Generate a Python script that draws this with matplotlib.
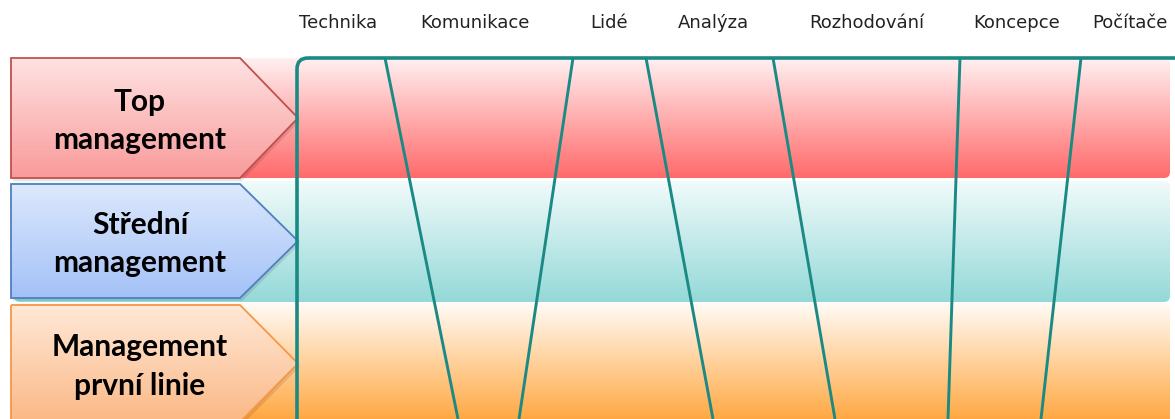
import numpy as np
import matplotlib
matplotlib.use("Agg")
import matplotlib.pyplot as plt
from matplotlib.patches import Polygon, FancyBboxPatch
from matplotlib.colors import to_rgb

# ---- data ----
skills = ["Technika", "Komunikace", "Lidé", "Analýza", "Rozhodování", "Koncepce", "Počítače"]
skill_x = [338, 475, 609, 713, 867, 1017, 1130]
levels = ["Top\nmanagement", "Střední\nmanagement", "Management\nprvní linie"]
boundary_top = [385, 573, 646, 773, 960, 1081]
boundary_bottom = [458, 519, 713, 835, 948, 1041]

W, H = 1175, 419
fig = plt.figure(figsize=(W / 100, H / 100), dpi=100)
ax = fig.add_axes([0, 0, 1, 1])
ax.set_xlim(0, W)
ax.set_ylim(H, 0)
ax.axis("off")

band_y = [(58, 178), (181, 302), (303, 425)]
band_cols = [("#fff1f2", "#ff6a6a"), ("#f2fbfb", "#94d9d8"), ("#fffbf6", "#ffa43a")]
arrow_y = [(58, 178), (184, 298), (305, 422)]
arrow_cols = [("#ffe3e3", "#f99a9a", "#c0504d"),
              ("#dde9fd", "#a3c1f7", "#4f7fbf"),
              ("#ffe9d8", "#fbb885", "#f79646")]


def gradient(patch, y0, y1, c0, c1, x0, x1, z):
    n = 256
    a = np.array(to_rgb(c0)); b = np.array(to_rgb(c1))
    t = np.linspace(0, 1, n)[:, None]
    img = (a * (1 - t) + b * t)[:, None, :]
    im = ax.imshow(img, extent=[x0, x1, y1, y0], origin="upper", aspect="auto",
                   zorder=z, interpolation="bilinear")
    im.set_clip_path(patch)


# bands
for (y0, y1), (c0, c1) in zip(band_y, band_cols):
    p = FancyBboxPatch((14, y0), 1170 - 14, y1 - y0, boxstyle="round,pad=0,rounding_size=6",
                       facecolor="none", edgecolor="none", zorder=1)
    ax.add_patch(p)
    gradient(p, y0, y1, c0, c1, 0, W, 1)

# arrows (shapes on the left)
for (y0, y1), (c0, c1, ec), lab in zip(arrow_y, arrow_cols, levels):
    ym = (y0 + y1) / 2
    pts = [(11, y0), (240, y0), (298, ym), (240, y1), (11, y1)]
    sh = Polygon([(x + 2, y + 3) for x, y in pts], closed=True, facecolor="#000000",
                 alpha=0.10, edgecolor="none", zorder=2)
    ax.add_patch(sh)
    p = Polygon(pts, closed=True, facecolor="none", edgecolor=ec, lw=1.3, zorder=4)
    ax.add_patch(p)
    clip = Polygon(pts, closed=True, facecolor="none", edgecolor="none", zorder=3)
    ax.add_patch(clip)
    gradient(clip, y0, y1, c0, c1, 11, 298, 3)
    ax.text(140, ym + 3, lab, ha="center", va="center", fontsize=21.5, fontweight="bold",
            family="Lato", linespacing=1.45, color="#000000", zorder=5)

# teal frame
line_col = "#1b8a85"
frame = FancyBboxPatch((297, 58), 900, 400, boxstyle="round,pad=0,rounding_size=11",
                       facecolor="none", edgecolor=line_col, lw=2.6, zorder=6)
ax.add_patch(frame)

# boundary lines
for xt, xb in zip(boundary_top, boundary_bottom):
    ax.plot([xt, xb], [58, 419], color=line_col, lw=2.1, zorder=6, solid_capstyle="butt")

# skill headers
for s, x in zip(skills, skill_x):
    ax.text(x, 28, s, ha="center", va="baseline", fontsize=13, color="#222222",
            family="DejaVu Sans", zorder=7)

fig.savefig("out.png", dpi=100)
